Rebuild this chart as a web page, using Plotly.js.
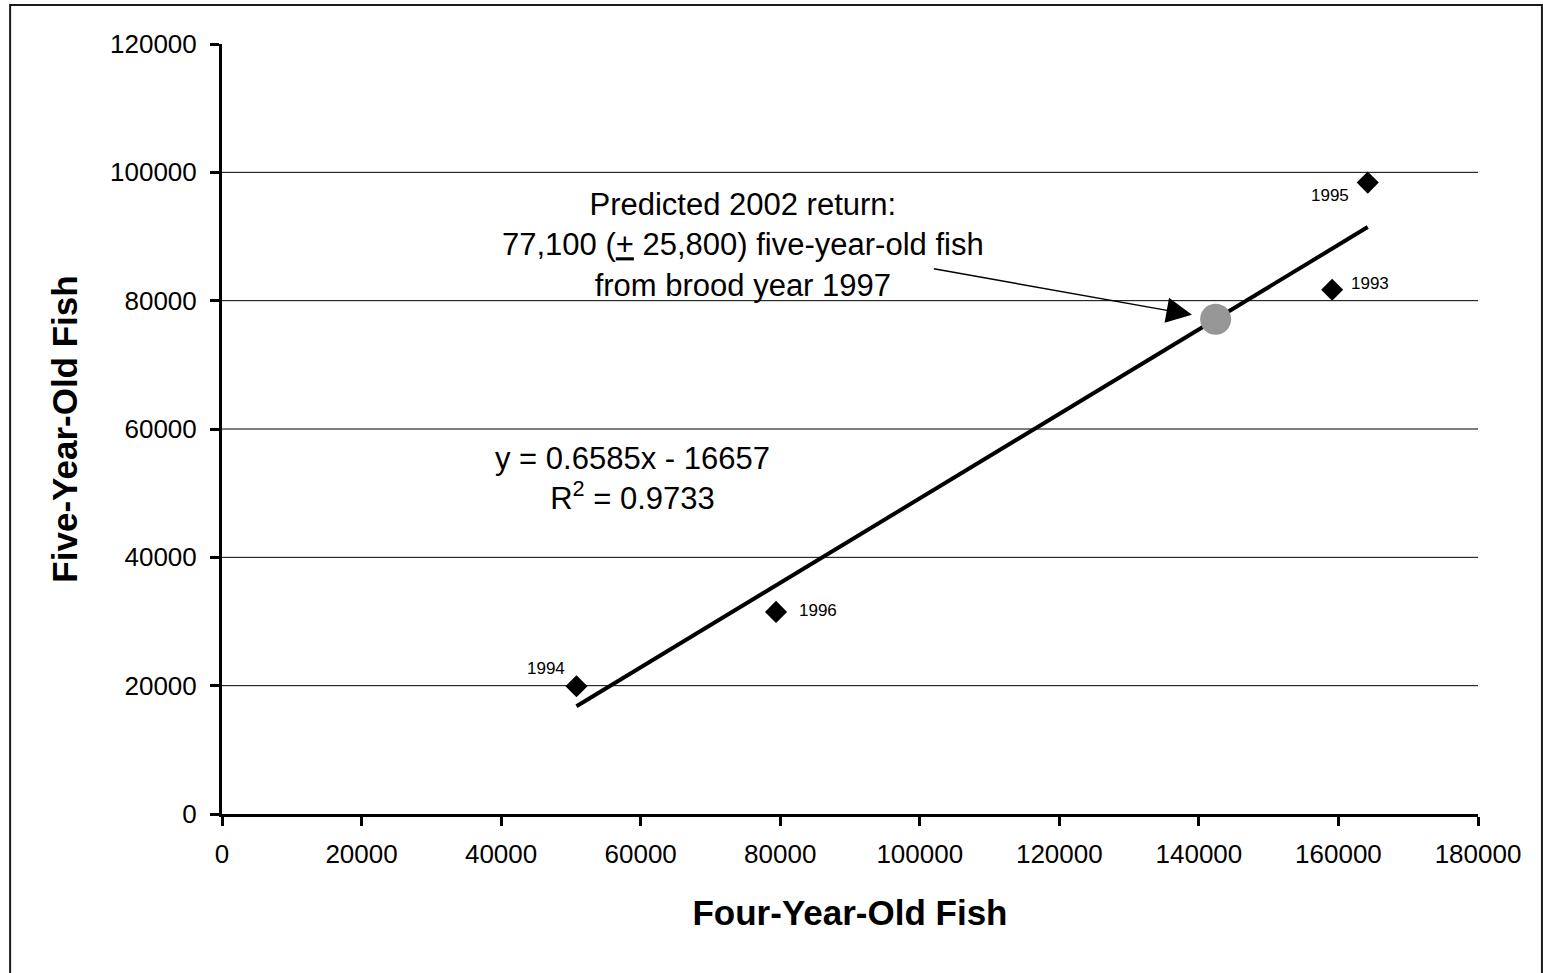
<!DOCTYPE html>
<html>
<head>
<meta charset="utf-8">
<script src="https://cdn.plot.ly/plotly-3.0.1.min.js"></script>
<style>
  html, body { margin: 0; padding: 0; background: #fff; }
  #chart { width: 1543px; height: 973px; }
</style>
</head>
<body>
<div id="chart"></div>
<script>
// ---- data ----
var broodYears   = ['1993', '1994', '1995', '1996'];
var fourYearOld  = [159100, 50800, 164200, 79400];
var fiveYearOld  = [81700, 19900, 98400, 31500];

var predictedX   = [142400];
var predictedY   = [77100];

var trendSlope     = 0.6585;
var trendIntercept = -16657;
var rSquared       = 0.9733;

var xTicks = [0, 20000, 40000, 60000, 80000, 100000, 120000, 140000, 160000, 180000];
var yTicks = [0, 20000, 40000, 60000, 80000, 100000, 120000];

// ---- presentation ----
var FONT = 'Arial, "Liberation Sans", sans-serif';
var labelShift = { '1993': [38, 6], '1994': [-30, 18], '1995': [-38, -13], '1996': [42, 1] };

var xMin = Math.min.apply(null, fourYearOld);
var xMax = Math.max.apply(null, fourYearOld);
var trendX = [xMin, xMax];
var trendY = trendX.map(function (x) { return trendSlope * x + trendIntercept; });

var traces = [
  {
    x: trendX, y: trendY, type: 'scatter', mode: 'lines',
    line: { color: '#000', width: 4 }, hoverinfo: 'skip'
  },
  {
    x: predictedX, y: predictedY, type: 'scatter', mode: 'markers',
    marker: { symbol: 'circle', size: 31, color: '#969696', line: { width: 0 } }
  },
  {
    x: fourYearOld, y: fiveYearOld, type: 'scatter', mode: 'markers',
    marker: { symbol: 'diamond', size: 17, color: '#000', line: { width: 0 } }
  }
];

var shapes = yTicks.filter(function (v) { return v > yTicks[0] && v < yTicks[yTicks.length - 1]; })
  .map(function (v) {
    return { type: 'line', xref: 'x', yref: 'y', x0: xTicks[0], x1: xTicks[xTicks.length - 1], y0: v, y1: v,
             line: { color: '#000', width: 1 }, layer: 'below' };
  });
// outer chart frame
shapes.push({ type: 'rect', xref: 'paper', yref: 'paper', x0: -0.1687, x1: 1.0509, y0: -0.25, y1: 1.0506,
              line: { color: '#1a1a1a', width: 2 }, fillcolor: 'rgba(0,0,0,0)' });

var annotations = broodYears.map(function (yr, i) {
  return { x: fourYearOld[i], y: fiveYearOld[i], xref: 'x', yref: 'y', text: yr, showarrow: false,
           xshift: labelShift[yr][0], yshift: labelShift[yr][1],
           font: { family: FONT, size: 17, color: '#000' } };
});

annotations.push({
  xref: 'x', yref: 'y', x: 74600, y: 88700, xanchor: 'center', yanchor: 'middle', showarrow: false,
  text: 'Predicted 2002 return:<br>77,100 (<u>+</u> 25,800) five-year-old fish<br>from brood year 1997',
  font: { family: FONT, size: 31, color: '#000' }, align: 'center'
});
annotations.push({
  xref: 'x', yref: 'y', x: 139000, y: 77800, axref: 'x', ayref: 'y', ax: 101800, ay: 85000,
  text: '', showarrow: true, arrowhead: 2, arrowsize: 3.4, arrowwidth: 1.5, arrowcolor: '#000'
});
annotations.push({
  xref: 'x', yref: 'y', x: 58800, y: 52300, xanchor: 'center', yanchor: 'middle', showarrow: false,
  text: 'y = ' + trendSlope + 'x - ' + Math.abs(trendIntercept) + '<br>R<sup>2</sup> = ' + rSquared,
  font: { family: FONT, size: 31, color: '#000' }, align: 'center'
});

var axisCommon = {
  showline: true, linecolor: '#000', linewidth: 3, mirror: false,
  ticks: 'outside', ticklen: 9, tickwidth: 3, tickcolor: '#000',
  showgrid: false, zeroline: false, tickformat: 'd',
  tickfont: { family: FONT, size: 26, color: '#000' }
};

var layout = {
  width: 1543, height: 973,
  margin: { l: 222, r: 65, t: 44, b: 159, pad: 0 },
  paper_bgcolor: '#fff', plot_bgcolor: '#fff',
  showlegend: false, hovermode: false,
  xaxis: Object.assign({}, axisCommon, {
    range: [xTicks[0], xTicks[xTicks.length - 1]], tickvals: xTicks, ticklabelstandoff: 6,
    title: { text: '<b>Four-Year-Old Fish</b>', font: { family: FONT, size: 35, color: '#000' }, standoff: 33 }
  }),
  yaxis: Object.assign({}, axisCommon, {
    range: [yTicks[0], yTicks[yTicks.length - 1]], tickvals: yTicks, ticklabelstandoff: 8,
    title: { text: '<b>Five-Year-Old Fish</b>', font: { family: FONT, size: 35, color: '#000' }, standoff: 22 }
  }),
  shapes: shapes,
  annotations: annotations
};

Plotly.newPlot('chart', traces, layout, { staticPlot: true, displayModeBar: false });
</script>
</body>
</html>
